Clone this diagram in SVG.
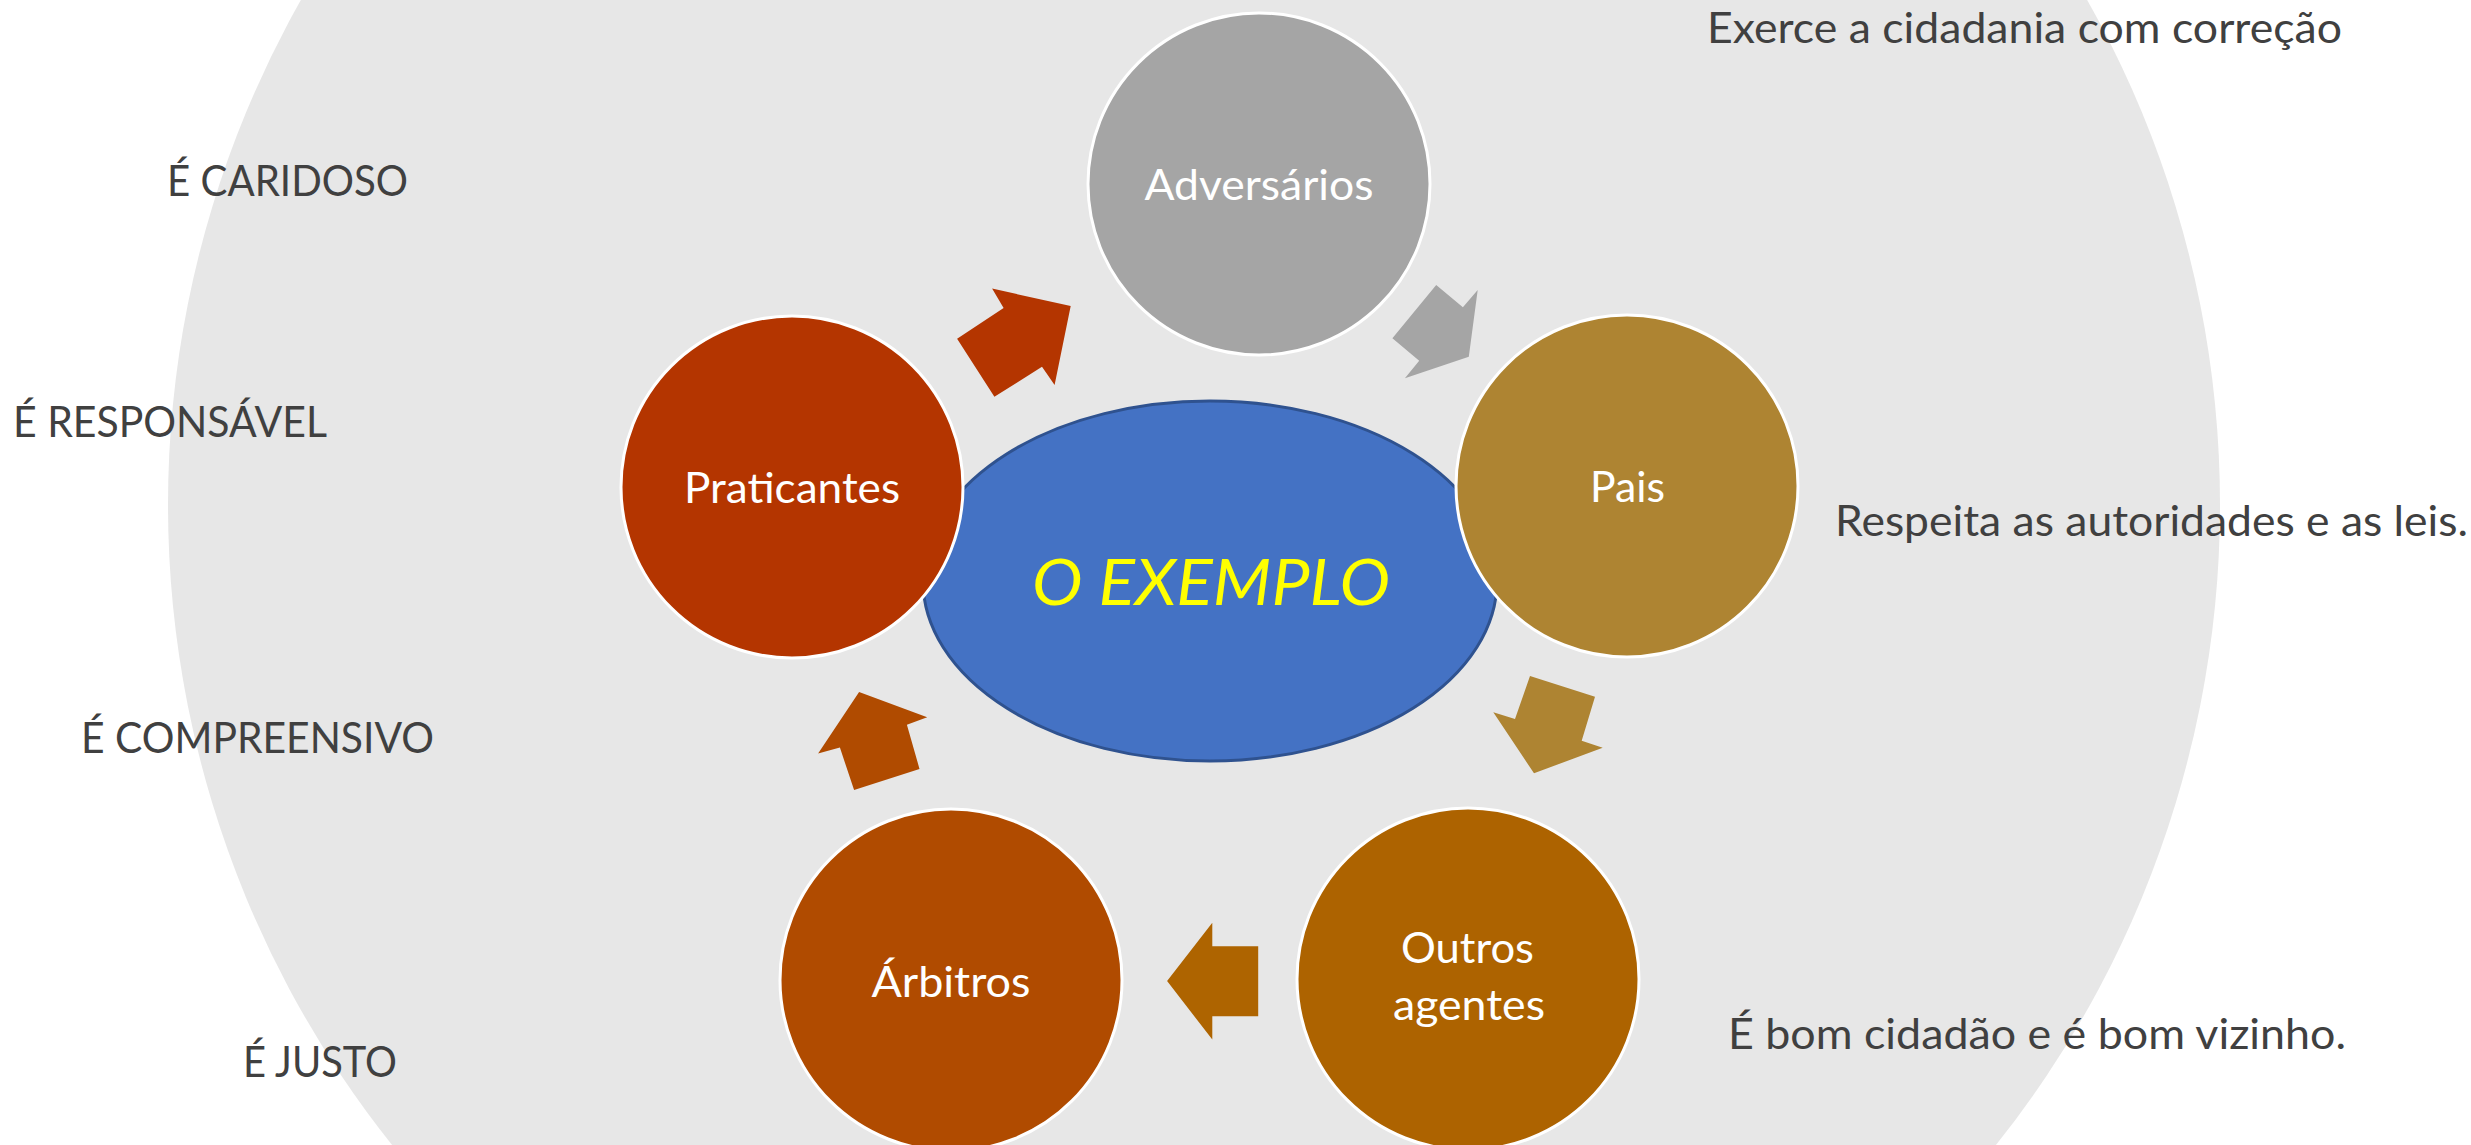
<svg xmlns="http://www.w3.org/2000/svg" width="2471" height="1145" viewBox="0 0 2471 1145">
  <style>
    .node { stroke: #FFFFFF; stroke-width: 3; }
    .lbl { font-family: Lato, "Open Sans", "Liberation Sans", sans-serif; font-size: 42px; fill: #FFFFFF; text-anchor: middle; }
    .side { font-family: Lato, "Open Sans", "Liberation Sans", sans-serif; font-size: 42px; fill: #404040; }
    .center { font-family: Lato, "Open Sans", "Liberation Sans", sans-serif; font-size: 64px; font-style: italic; fill: #FFFF00; text-anchor: middle; }
  </style>
  <rect width="2471" height="1145" fill="#FFFFFF"/>
  <circle id="backdrop" cx="1194" cy="505" r="1026" fill="#E7E7E7"/>

  <g id="node-center">
    <ellipse cx="1210" cy="581" rx="287" ry="180" fill="#4472C4" stroke="#2F528F" stroke-width="3"/>
    <text class="center" x="1211" y="605" textLength="358" lengthAdjust="spacingAndGlyphs">O EXEMPLO</text>
  </g>

  <g id="node-adversarios">
    <circle class="node" cx="1259" cy="184" r="171" fill="#A5A5A5"/>
    <text class="lbl" x="1259" y="200" textLength="229" lengthAdjust="spacingAndGlyphs">Adversários</text>
  </g>

  <g id="node-pais">
    <circle class="node" cx="1627" cy="486" r="171" fill="#AE8432"/>
    <text class="lbl" x="1627.5" y="502" textLength="75" lengthAdjust="spacingAndGlyphs">Pais</text>
  </g>

  <g id="node-outros">
    <circle class="node" cx="1468" cy="979" r="171" fill="#AD6300"/>
    <text class="lbl" x="1467.5" y="963" textLength="133" lengthAdjust="spacingAndGlyphs">Outros</text>
    <text class="lbl" x="1469" y="1020" textLength="152" lengthAdjust="spacingAndGlyphs">agentes</text>
  </g>

  <g id="node-arbitros">
    <circle class="node" cx="951" cy="980" r="171" fill="#B04B00"/>
    <text class="lbl" x="951" y="997" textLength="159" lengthAdjust="spacingAndGlyphs">Árbitros</text>
  </g>

  <g id="node-praticantes">
    <circle class="node" cx="792" cy="487" r="171" fill="#B43500"/>
    <text class="lbl" x="792" y="503" textLength="216" lengthAdjust="spacingAndGlyphs">Praticantes</text>
  </g>

  <g id="connectors">
    <polygon fill="#B43500" points="992.1,288.6 1070.7,306.1 1054.6,385.1 1042.0,366.8 994.4,396.7 957.1,338.8 1003.6,307.9"/>
    <polygon fill="#A5A5A5" points="1436.2,285 1462.9,307.3 1477.7,290 1468.8,356.7 1404.9,378.3 1419.2,360.7 1392.4,338.3"/>
    <polygon fill="#AE8432" points="1530,676 1595,696.7 1581.7,740.7 1602.7,747.7 1534,773.3 1493.3,712.3 1515,719"/>
    <polygon fill="#AE6400" points="1167.1,981 1212.3,922.7 1212.3,946.3 1258.2,946.3 1258.2,1016.3 1212.3,1016.3 1212.3,1039.6"/>
    <polygon fill="#B04B00" points="859.1,692.1 927.2,717.3 906.9,724.7 919.5,768.9 854.1,790.1 839.9,747.6 818.1,753.4"/>
  </g>

  <g id="annotations">
    <text class="side" x="167" y="196" textLength="241" lengthAdjust="spacingAndGlyphs">É CARIDOSO</text>
    <text class="side" x="13" y="437" textLength="314" lengthAdjust="spacingAndGlyphs">É RESPONSÁVEL</text>
    <text class="side" x="81" y="753" textLength="353" lengthAdjust="spacingAndGlyphs">É COMPREENSIVO</text>
    <text class="side" x="243" y="1077" textLength="154" lengthAdjust="spacingAndGlyphs">É JUSTO</text>
    <text class="side" x="1707" y="43" textLength="635" lengthAdjust="spacingAndGlyphs">Exerce a cidadania com correção</text>
    <text class="side" x="1835" y="536" textLength="633" lengthAdjust="spacingAndGlyphs">Respeita as autoridades e as leis.</text>
    <text class="side" x="1728" y="1049" textLength="618" lengthAdjust="spacingAndGlyphs">É bom cidadão e é bom vizinho.</text>
  </g>
</svg>
